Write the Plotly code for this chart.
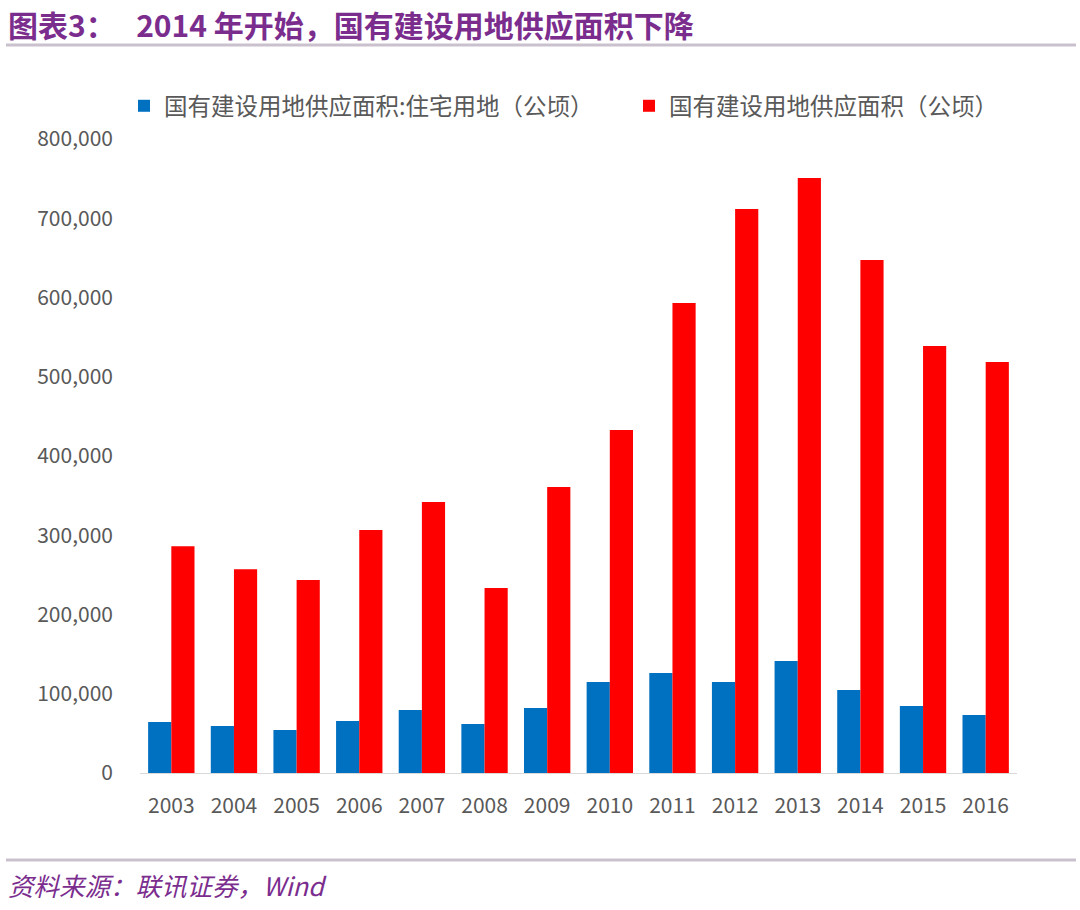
import plotly.graph_objects as go

years = ["2003", "2004", "2005", "2006", "2007", "2008", "2009", "2010",
         "2011", "2012", "2013", "2014", "2015", "2016"]
residential = [64400, 59300, 54300, 65600, 79500, 61800, 82000, 114800,
               126200, 114800, 141300, 104700, 84500, 73200]
total = [286000, 257000, 243500, 306600, 342000, 233400, 361000, 432800,
         593000, 711700, 750800, 647300, 538800, 518600]
y_ticks = [0, 100000, 200000, 300000, 400000, 500000, 600000, 700000, 800000]
y_tick_text = ["0", "100,000", "200,000", "300,000", "400,000", "500,000",
               "600,000", "700,000", "800,000"]

W, H = 1080, 910
L, R, T, B = 140, 63, 139, 137
pw, ph = W - L - R, H - T - B

def px(x):
    return (x - L) / pw

def py(y):
    return (H - B - y) / ph

font_cjk = "Noto Sans CJK SC, Noto Sans, sans-serif"

fig = go.Figure()
fig.add_trace(go.Bar(x=years, y=residential, name="国有建设用地供应面积:住宅用地（公顷）",
                     marker=dict(color="#0070C0", line=dict(width=0)), legend="legend"))
fig.add_trace(go.Bar(x=years, y=total, name="国有建设用地供应面积（公顷）",
                     marker=dict(color="#FF0000", line=dict(width=0)), legend="legend2"))

leg_common = dict(orientation="h", xanchor="left", yanchor="middle",
                  font=dict(size=23.5, color="#595959", family=font_cjk),
                  itemwidth=30, bgcolor="rgba(0,0,0,0)")

fig.update_layout(
    width=W, height=H,
    margin=dict(l=L, r=R, t=T, b=B),
    paper_bgcolor="white", plot_bgcolor="white",
    barmode="group", bargap=0.26, bargroupgap=0,
    font=dict(family=font_cjk, color="#595959", size=21),
    showlegend=True,
    legend=dict(x=px(124), y=py(106), **leg_common),
    legend2=dict(x=px(629), y=py(106), **leg_common),
    xaxis=dict(showgrid=False, showline=True, linecolor="#D9D9D9", linewidth=1,
               ticks="", tickfont=dict(size=21, color="#595959"), ticklabelstandoff=14),
    yaxis=dict(range=[0, 800000], tickvals=y_ticks, ticktext=y_tick_text,
               showgrid=False, zeroline=False, showline=False, ticks="",
               tickfont=dict(size=21, color="#595959"), ticklabelstandoff=26),
)

# Title
fig.add_annotation(text="<b>图表3：   2014 年开始，国有建设用地供应面积下降</b>",
                   xref="paper", yref="paper", x=px(6), y=py(24),
                   xanchor="left", yanchor="middle", showarrow=False,
                   font=dict(size=30, color="#7B2D8E", family=font_cjk))
# Footer
fig.add_annotation(text="<i>资料来源：联讯证券，Wind</i>",
                   xref="paper", yref="paper", x=px(6), y=py(884),
                   xanchor="left", yanchor="middle", showarrow=False,
                   font=dict(size=25.5, color="#7B2D8E", family=font_cjk))
# Separator lines
fig.add_shape(type="line", xref="paper", yref="paper", x0=px(6), x1=px(1076),
              y0=py(45), y1=py(45), line=dict(color="#C9C1CD", width=3))
fig.add_shape(type="line", xref="paper", yref="paper", x0=px(6), x1=px(1076),
              y0=py(860), y1=py(860), line=dict(color="#C9C1CD", width=3))

fig.write_html("out.html")
